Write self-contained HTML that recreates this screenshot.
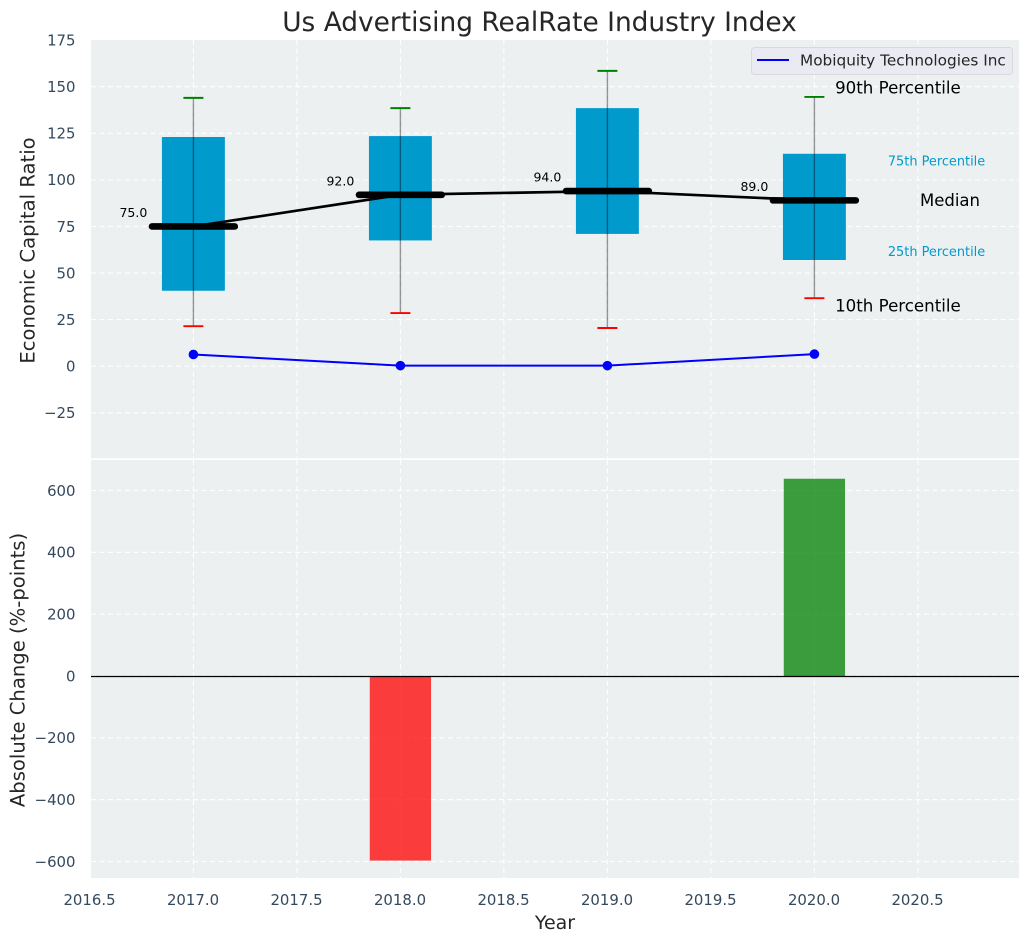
<!DOCTYPE html>
<html>
<head>
<meta charset="utf-8">
<title>Us Advertising RealRate Industry Index</title>
<style>
html,body{margin:0;padding:0;background:#fff;}
svg{display:block;font-family:"DejaVu Sans","Liberation Sans",sans-serif;}
</style>
</head>
<body>
<svg id="chart" xmlns="http://www.w3.org/2000/svg" width="1029" height="942" viewBox="0 0 1029 942">
  <rect x="91" y="40" width="928" height="418.3" fill="#ecf0f1"/>
  <rect x="91" y="460" width="928" height="418" fill="#ecf0f1"/>
  <g id="grid"></g>
  <g id="marks"></g>
  <g id="axes"></g>
  <text x="539.5" y="31" text-anchor="middle" font-size="26.4" fill="#262626">Us Advertising RealRate Industry Index</text>
  <text transform="translate(34.5,250.5) rotate(-90)" text-anchor="middle" font-size="19.6" fill="#262626">Economic Capital Ratio</text>
  <text transform="translate(24.5,670) rotate(-90)" text-anchor="middle" font-size="19.6" fill="#262626">Absolute Change (%-points)</text>
  <text x="555" y="929" text-anchor="middle" font-size="19" fill="#262626">Year</text>
  <g>
    <rect x="751.5" y="47.5" width="261" height="27" rx="3" fill="#eaeaf2" stroke="#d8d8df" stroke-width="1"/>
    <line x1="757" y1="60" x2="789" y2="60" stroke="#0000ff" stroke-width="2"/>
    <text x="800" y="65.5" font-size="15.3" fill="#262626">Mobiquity Technologies Inc</text>
  </g>
</svg>
<script>
// Chart data
var years = [2017, 2018, 2019, 2020];
var p10 = [21.5, 28.5, 20.5, 36.5];
var p25 = [40.5, 67.5, 71, 57];
var median = [75, 92, 94, 89];
var p75 = [123, 123.5, 138.5, 114];
var p90 = [144, 138.5, 158.5, 144.5];
var company = [6.3, 0.3, 0.3, 6.5];
var changes = [0, -597, 0, 638];
var xTicks = [2016.5, 2017, 2017.5, 2018, 2018.5, 2019, 2019.5, 2020, 2020.5];
var topTicks = [-25, 0, 25, 50, 75, 100, 125, 150, 175];
var bottomTicks = [-600, -400, -200, 0, 200, 400, 600];

// Axis functions
function sx(v) { return 193.4 + (v - 2017) * 207; }
function syTop(v) { return 366.2 - v * 1.8633; }
function syBottom(v) { return 676 - v * 0.3092; }

var NS = 'http://www.w3.org/2000/svg';
var grid = document.getElementById('grid');
var marks = document.getElementById('marks');
var axes = document.getElementById('axes');

function make(parent, tag, attrs, text) {
  var node = document.createElementNS(NS, tag);
  for (var k in attrs) { node.setAttribute(k, attrs[k]); }
  if (text !== undefined) { node.textContent = text; }
  parent.appendChild(node);
  return node;
}
function fmtTick(v) { return String(v).replace('-', '\u2212'); }

var el;
var gridStyle = { stroke: '#ffffff', 'stroke-width': 1.1, 'stroke-dasharray': '5 3.5' };

xTicks.forEach(function (t) {
  if (t > 2016.5) {
    el = make(grid, 'line', { x1: sx(t), x2: sx(t), y1: 40, y2: 458.3, stroke: gridStyle.stroke, 'stroke-width': gridStyle['stroke-width'], 'stroke-dasharray': gridStyle['stroke-dasharray'] });
    
    
    el = make(grid, 'line', { x1: sx(t), x2: sx(t), y1: 460, y2: 878, stroke: gridStyle.stroke, 'stroke-width': gridStyle['stroke-width'], 'stroke-dasharray': gridStyle['stroke-dasharray'] });
    
    
  }
  el = make(axes, 'text', { x: sx(t) - 0.4, y: 905, 'text-anchor': 'middle', 'font-size': 14.9, fill: '#34495e' }, t.toFixed(1));
  
  
});

topTicks.forEach(function (t) {
  if (t < 175) {
    el = make(grid, 'line', { x1: 91, x2: 1019, y1: syTop(t), y2: syTop(t), stroke: gridStyle.stroke, 'stroke-width': gridStyle['stroke-width'], 'stroke-dasharray': gridStyle['stroke-dasharray'] });
    
    
  }
  el = make(axes, 'text', { x: 75.5, y: syTop(t) + 5.3, 'text-anchor': 'end', 'font-size': 14.9, fill: '#34495e' }, fmtTick(t));
  
  
});

bottomTicks.forEach(function (t) {
  el = make(grid, 'line', { x1: 91, x2: 1019, y1: syBottom(t), y2: syBottom(t), stroke: gridStyle.stroke, 'stroke-width': gridStyle['stroke-width'], 'stroke-dasharray': gridStyle['stroke-dasharray'] });
  
  
  el = make(axes, 'text', { x: 75.5, y: syBottom(t) + 5.3, 'text-anchor': 'end', 'font-size': 14.9, fill: '#34495e' }, fmtTick(t));
  
  
});

// Boxes
years.forEach(function (y, i) {
  el = make(marks, 'rect', { x: sx(y - 0.152), width: sx(y + 0.152) - sx(y - 0.152), y: syTop(p75[i]), height: syTop(p25[i]) - syTop(p75[i]), fill: '#009acd' });
  
  
});

// Median trend line
el = make(marks, 'polyline', {
  points: years.map(function (y, i) { return sx(y) + ',' + syTop(median[i]); }).join(' '),
  fill: 'none', stroke: '#000000', 'stroke-width': 2.7
});



years.forEach(function (y, i) {
  el = make(marks, 'line', { x1: sx(y), x2: sx(y), y1: syTop(p90[i]), y2: syTop(p10[i]), stroke: '#000000', 'stroke-opacity': 0.4, 'stroke-width': 1.4 });
  
  

  el = make(marks, 'line', { x1: sx(y) - 10, x2: sx(y) + 10, y1: syTop(p90[i]), y2: syTop(p90[i]), stroke: '#008000', 'stroke-width': 1.9 });
  
  

  el = make(marks, 'line', { x1: sx(y) - 10, x2: sx(y) + 10, y1: syTop(p10[i]), y2: syTop(p10[i]), stroke: '#ff0000', 'stroke-width': 1.9 });
  
  

  el = make(marks, 'line', { x1: sx(y - 0.2), x2: sx(y + 0.2), y1: syTop(median[i]), y2: syTop(median[i]), stroke: '#000000', 'stroke-width': 6.6, 'stroke-linecap': 'round' });
  
  

  el = make(marks, 'text', { x: sx(y - 0.29), y: syTop(median[i] + 5.5) + 0.8, 'text-anchor': 'middle', 'font-size': 12.5, fill: '#000000' }, median[i].toFixed(1));
  
  
});

// Company series
el = make(marks, 'polyline', {
  points: years.map(function (y, i) { return sx(y) + ',' + syTop(company[i]); }).join(' '),
  fill: 'none', stroke: '#0000ff', 'stroke-width': 2
});


years.forEach(function (y, i) {
  el = make(marks, 'circle', { cx: sx(y), cy: syTop(company[i]), r: 4.8, fill: '#0000ff' });
  
  
});

// Percentile annotations, anchored to the last year
var last = years.length - 1;
var lastYear = years[last];

el = make(marks, 'text', { x: sx(lastYear + 0.1), y: syTop(p90[last] + 5) + 5.8, 'font-size': 16.65, fill: '#000000' }, '90th Percentile');



el = make(marks, 'text', { x: sx(lastYear + 0.1), y: syTop(p10[last] - 4) + 5.8, 'font-size': 16.65, fill: '#000000' }, '10th Percentile');



el = make(marks, 'text', { x: sx(lastYear + 0.59), y: syTop(p75[last] - 4) + 4.4, 'text-anchor': 'middle', 'font-size': 12.9, fill: '#009acd' }, '75th Percentile');



el = make(marks, 'text', { x: sx(lastYear + 0.59), y: syTop(p25[last] + 4.5) + 4.4, 'text-anchor': 'middle', 'font-size': 12.9, fill: '#009acd' }, '25th Percentile');



el = make(marks, 'text', { x: sx(lastYear + 0.655), y: syTop(median[last]) + 5.8, 'text-anchor': 'middle', 'font-size': 16.5, fill: '#000000' }, 'Median');



// Change bars
years.forEach(function (y, i) {
  if (changes[i] === 0) { return; }
  var top = Math.min(syBottom(changes[i]), syBottom(0));
  var h = Math.abs(syBottom(changes[i]) - syBottom(0));
  el = make(marks, 'rect', { x: sx(y - 0.148), width: sx(y + 0.148) - sx(y - 0.148), y: top, height: h, fill: changes[i] < 0 ? '#ff0000' : '#008000', 'fill-opacity': 0.75 });
  
  
});

el = make(marks, 'line', { x1: 91, x2: 1019, y1: syBottom(0) + 0.5, y2: syBottom(0) + 0.5, stroke: '#000000', 'stroke-width': 1.2 });


</script>
</body>
</html>
